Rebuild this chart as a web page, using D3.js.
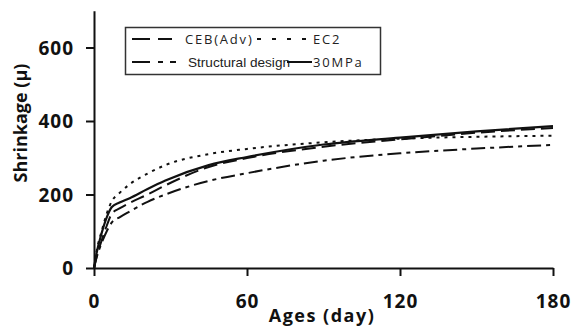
<!DOCTYPE html>
<html>
<head>
<meta charset="utf-8">
<script src="https://cdn.jsdelivr.net/npm/d3@7"></script>
<style>
  body { margin: 0; background: #fff; }
  svg { display: block; }
  .tick text { font-family: "Open Sans", sans-serif; font-weight: 700; font-size: 19px; letter-spacing: 1px; fill: #111; }
  .axis-title { font-family: "Open Sans", sans-serif; font-weight: 700; font-size: 18px; fill: #111; }
</style>
</head>
<body>
<svg id="chart"></svg>
<script>
const w = 584
const h = 330

// ages (day) and the four shrinkage curves (micro-strain)
const days = [0, 1, 3, 5, 7, 10, 14, 21, 28, 45, 60, 90, 120, 150, 180]
const ceb = [0, 30, 75, 115, 148, 162, 177, 200, 225, 275, 299, 330, 350, 368, 381]
const ec2 = [0, 45, 100, 148, 182, 204, 228, 257, 280, 310, 324, 342, 352, 357, 360]
const structural = [0, 28, 68, 100, 124, 138, 154, 180, 200, 237, 258, 292, 312, 325, 335]
const mpa30 = [0, 40, 95, 138, 166, 178, 190, 215, 238, 280, 302, 336, 355, 372, 386]

const xTicks = [0, 60, 120, 180]
const yTicks = [0, 200, 400, 600]

const series = [
    {name: 'CEB(Adv)', values: ceb, dash: '14,6', width: 2},
    {name: 'EC2', values: ec2, dash: '3,5', width: 2},
    {name: 'Structural design', values: structural, dash: '14,5,4,5', width: 2},
    {name: '30MPa', values: mpa30, dash: null, width: 2.2}
]

const svg = d3.select('#chart')
    .attr('width', w)
    .attr('height', h)

const x = d3.scaleLinear().domain([0, 180]).range([94, 553])
const y = d3.scaleLinear().domain([0, 700]).range([268, 10.75])

// axes
const xAxis = svg.append('g')
    .attr('transform', `translate(0, ${y(0)})`)
    .call(d3.axisBottom(x).tickValues(xTicks).tickSize(8).tickSizeOuter(0).tickPadding(25))
const yAxis = svg.append('g')
    .attr('transform', `translate(${x(0)}, 0)`)
    .call(d3.axisLeft(y).tickValues(yTicks).tickSize(8).tickSizeOuter(0).tickPadding(12))

svg.selectAll('.domain, .tick line')
    .attr('stroke', '#111')
    .attr('stroke-width', 2)
xAxis.selectAll('.tick text').attr('dy', '0.35em')
yAxis.selectAll('.tick text').attr('dy', '0.36em')

svg.append('text')
    .attr('class', 'axis-title')
    .attr('x', 322)
    .attr('y', 322)
    .attr('text-anchor', 'middle')
    .attr('font-size', 18.5)
    .attr('letter-spacing', 1.5)
    .text('Ages (day)')

svg.append('text')
    .attr('class', 'axis-title')
    .attr('transform', 'translate(27, 123) rotate(-90)')
    .attr('text-anchor', 'middle')
    .text('Shrinkage (μ)')

// curves
const line = d3.line()
    .x((d, i) => x(days[i]))
    .y(d => y(d))
    .curve(d3.curveMonotoneX)

svg.selectAll('.curve')
    .data(series)
    .enter()
    .append('path')
    .attr('class', 'curve')
    .attr('d', d => line(d.values))
    .attr('fill', 'none')
    .attr('stroke', '#111')
    .attr('stroke-width', d => d.width)
    .attr('stroke-dasharray', d => d.dash)

// legend
const legend = svg.append('g')
legend.append('rect')
    .attr('x', 125.5)
    .attr('y', 27.5)
    .attr('width', 255)
    .attr('height', 47)
    .attr('fill', '#fff')
    .attr('stroke', '#333')
    .attr('stroke-width', 1.5)

const legendItems = [
    {s: series[0], x1: 132, x2: 172, tx: 185, ly: 39, dash: '18,8', font: 'Open Sans', size: 13, ls: 1.8},
    {s: series[1], x1: 257, x2: 312, tx: 313, ly: 39, dash: '4,11', font: 'Open Sans', size: 13, ls: 1.8},
    {s: series[2], x1: 132, x2: 176, tx: 188, ly: 62, dash: '18,8,5,7', font: 'Liberation Sans', size: 13.6, ls: 0},
    {s: series[3], x1: 287, x2: 312, tx: 313, ly: 62, dash: null, font: 'Open Sans', size: 13, ls: 1.8}
]

legendItems.forEach(item => {
    legend.append('line')
        .attr('x1', item.x1)
        .attr('x2', item.x2)
        .attr('y1', item.ly)
        .attr('y2', item.ly)
        .attr('stroke', '#111')
        .attr('stroke-width', 2)
        .attr('stroke-dasharray', item.dash)
    legend.append('text')
        .attr('x', item.tx)
        .attr('y', item.ly + 5)
        .attr('font-family', item.font)
        .attr('font-size', item.size)
        .attr('letter-spacing', item.ls)
        .attr('fill', '#222')
        .text(item.s.name)
})
</script>
</body>
</html>
